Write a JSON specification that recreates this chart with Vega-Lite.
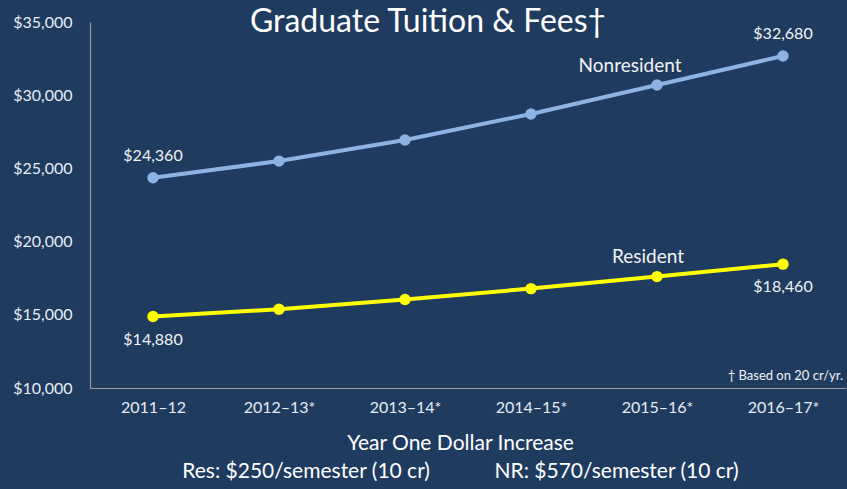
{
  "$schema": "https://vega.github.io/schema/vega-lite/v6.json",
  "width": 756,
  "height": 366,
  "autosize": {"type": "none"},
  "padding": {"left": 90, "top": 22, "right": 1, "bottom": 101},
  "background": "#1f3b60",
  "config": {
    "view": {"stroke": null},
    "font": "Lato",
    "axis": {"grid": false, "ticks": false, "domainColor": "#9a9a9a", "domainWidth": 1.2, "labelColor": "#e8ecf2", "labelFont": "Lato", "labelFontSize": 16, "titleFont": "Lato"}
  },
  "title": {
    "text": "Graduate Tuition & Fees\u2020",
    "fontSize": 32,
    "font": "Lato",
    "fontWeight": "normal",
    "color": "#ffffff",
    "anchor": "middle",
    "offset": -25,
    "dx": -40
  },
  "data": {
    "values": [
      {"year": "2011\u201312", "series": "Nonresident", "value": 24360},
      {"year": "2012\u201313*", "series": "Nonresident", "value": 25500},
      {"year": "2013\u201314*", "series": "Nonresident", "value": 26940},
      {"year": "2014\u201315*", "series": "Nonresident", "value": 28720},
      {"year": "2015\u201316*", "series": "Nonresident", "value": 30700},
      {"year": "2016\u201317*", "series": "Nonresident", "value": 32680},
      {"year": "2011\u201312", "series": "Resident", "value": 14880},
      {"year": "2012\u201313*", "series": "Resident", "value": 15380},
      {"year": "2013\u201314*", "series": "Resident", "value": 16040},
      {"year": "2014\u201315*", "series": "Resident", "value": 16790},
      {"year": "2015\u201316*", "series": "Resident", "value": 17610},
      {"year": "2016\u201317*", "series": "Resident", "value": 18460}
    ]
  },
  "encoding": {
    "x": {
      "field": "year", "type": "ordinal", "sort": null,
      "scale": {"paddingInner": 0, "paddingOuter": 0.5},
      "axis": {
        "labelAngle": 0, "labelPadding": 11,
        "title": ["Year One Dollar Increase", "Res: $250/semester (10 cr)\u00a0\u00a0\u00a0\u00a0\u00a0\u00a0\u00a0\u00a0\u00a0\u00a0\u00a0\u00a0NR: $570/semester (10 cr)"],
        "titleFontSize": 21, "titleFontWeight": "normal", "titleColor": "#ffffff",
        "titleLineHeight": 28, "titlePadding": 17, "titleX": 370
      }
    },
    "y": {
      "field": "value", "type": "quantitative",
      "scale": {"domain": [10000, 35000], "nice": false, "zero": false},
      "axis": {"values": [10000, 15000, 20000, 25000, 30000, 35000], "format": "$,.0f", "labelPadding": 18, "title": null}
    },
    "color": {
      "field": "series", "type": "nominal",
      "scale": {"domain": ["Nonresident", "Resident"], "range": ["#8db3e2", "#ffff00"]},
      "legend": null
    }
  },
  "layer": [
    {"mark": {"type": "line", "strokeWidth": 4}},
    {"mark": {"type": "point", "filled": true, "opacity": 1, "size": 130}},
    {
      "transform": [{"filter": "datum.series == 'Nonresident' && (datum.year == '2011\u201312' || datum.year == '2016\u201317*')"}],
      "mark": {"type": "text", "dy": -22, "fontSize": 16, "font": "Lato"},
      "encoding": {"text": {"field": "value", "type": "quantitative", "format": "$,.0f"}, "color": {"value": "#f2f2f2"}}
    },
    {
      "transform": [{"filter": "datum.series == 'Resident' && (datum.year == '2011\u201312' || datum.year == '2016\u201317*')"}],
      "mark": {"type": "text", "dy": 23, "fontSize": 16, "font": "Lato"},
      "encoding": {"text": {"field": "value", "type": "quantitative", "format": "$,.0f"}, "color": {"value": "#f2f2f2"}}
    },
    {
      "transform": [{"filter": "datum.series == 'Nonresident' && datum.year == '2015\u201316*'"}],
      "mark": {"type": "text", "dx": -27, "fontSize": 19, "font": "Lato"},
      "encoding": {"x": {"datum": "2015\u201316*"}, "y": {"datum": 32000}, "text": {"field": "series"}, "color": {"value": "#f2f2f2"}}
    },
    {
      "transform": [{"filter": "datum.series == 'Resident' && datum.year == '2015\u201316*'"}],
      "mark": {"type": "text", "dx": -9, "fontSize": 19, "font": "Lato"},
      "encoding": {"x": {"datum": "2015\u201316*"}, "y": {"datum": 18950}, "text": {"field": "series"}, "color": {"value": "#f2f2f2"}}
    },
    {
      "transform": [{"filter": "datum.series == 'Resident' && datum.year == '2016\u201317*'"}],
      "mark": {"type": "text", "dx": 60, "align": "right", "fontSize": 13, "font": "Lato"},
      "encoding": {"x": {"datum": "2016\u201317*"}, "y": {"datum": 10850}, "text": {"value": "\u2020 Based on 20 cr/yr."}, "color": {"value": "#f2f2f2"}}
    }
  ]
}
